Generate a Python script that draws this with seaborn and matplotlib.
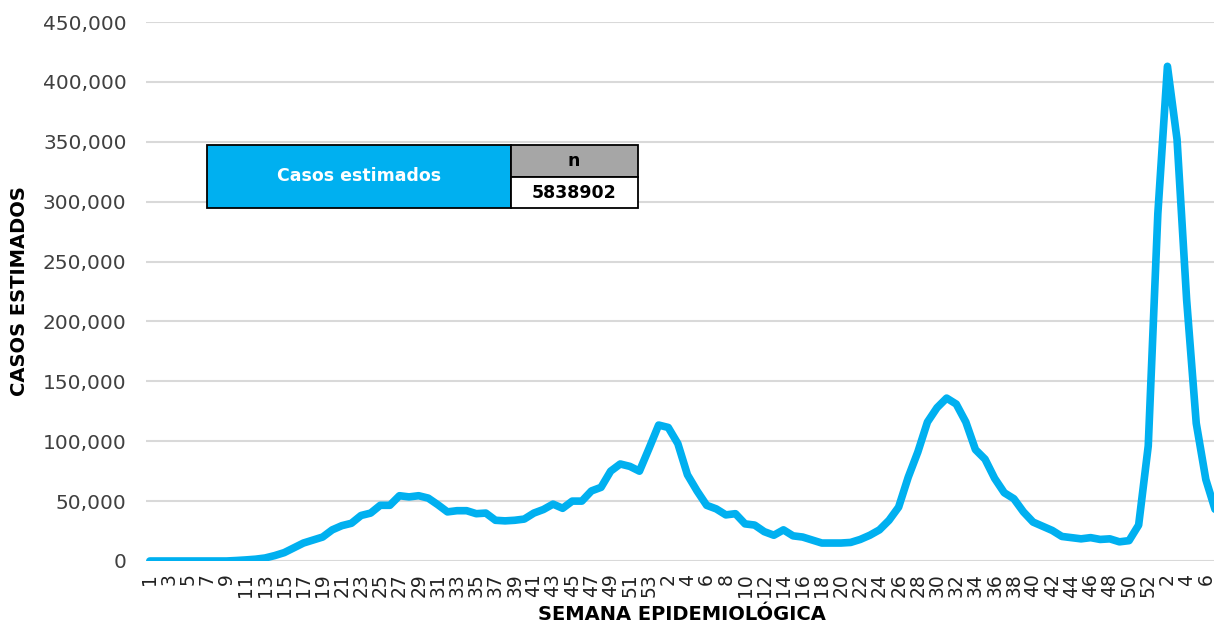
import matplotlib
matplotlib.use("Agg")
import matplotlib.pyplot as plt
import seaborn as sns
import pandas as pd
from matplotlib.patches import Rectangle

# Weekly estimated cases
casos_2020 = [0, 0, 0, 0, 0, 0, 0, 0, 0, 400,
              900, 1500, 2500, 4500, 7000, 11000, 15000, 17500, 20000, 26000,
              29500, 31500, 38000, 40000, 46500, 46500, 54500, 53500, 54500, 52500,
              47000, 41000, 42000, 42000, 39500, 40000, 34000, 33500, 34000, 35000,
              40000, 43000, 47500, 44000, 50000, 50000, 58500, 61500, 75000, 81000,
              79000, 75000, 94000]
casos_2021 = [113500, 111500, 98000, 72000, 58500, 46500, 43500, 38500, 39500, 31000,
              30000, 24500, 21500, 26000, 21000, 20000, 17500, 15000, 15000, 15000,
              15500, 18000, 21500, 26000, 34000, 45000, 70000, 91000, 116000, 128000,
              136000, 131000, 116000, 93000, 85000, 69000, 57000, 52000, 41000, 32500,
              29000, 25500, 20500, 19500, 18500, 19500, 18000, 18500, 16000, 17000,
              30000, 96000]
casos_2022 = [290000, 413000, 352000, 218000, 115000, 68000, 42000]

semanas = (list(range(1, len(casos_2020) + 1))
           + list(range(1, len(casos_2021) + 1))
           + list(range(1, len(casos_2022) + 1)))
casos = casos_2020 + casos_2021 + casos_2022
total_label = "5838902"

df = pd.DataFrame({"pos": range(len(casos)), "semana": semanas, "casos": casos})

sns.set_style("white")
plt.rcParams["font.family"] = ["DejaVu Sans"]

fig = plt.figure(figsize=(12.14, 6.27), dpi=100)
ax = fig.add_axes([146 / 1214, 66 / 627, 1068 / 1214, 539 / 627])

ax.yaxis.grid(True, color="#d9d9d9", linewidth=1.5)
ax.set_axisbelow(True)
sns.lineplot(data=df, x="pos", y="casos", ax=ax, color="#00b0f0", linewidth=5.5,
             solid_capstyle="round", solid_joinstyle="round")

ax.set_ylim(0, 450000)
ax.set_xlim(-0.4, 110.85)
ax.set_yticks(range(0, 450001, 50000))
ax.set_yticklabels([f"{v:,}" for v in range(0, 450001, 50000)], fontsize=14.5, color="#404040")
ax.set_xticks(df["pos"][::2])
ax.set_xticklabels(df["semana"][::2].astype(str), rotation=90, fontsize=13.5, color="#222222")
ax.tick_params(axis="x", length=0, pad=9)
ax.tick_params(axis="y", length=0, pad=14)
for s in ax.spines.values():
    s.set_visible(False)

ax.set_xlabel("SEMANA EPIDEMIOLÓGICA", fontsize=14, fontweight="bold", va="center", color="black")
ax.set_ylabel("CASOS ESTIMADOS", fontsize=14, fontweight="bold", va="center", color="black")
ax.xaxis.set_label_coords((682 - 146) / 1068, -(614 - 561) / 539)
ax.yaxis.set_label_coords(-(146 - 20) / 1068, (561 - 291) / 539)

# Summary box in the upper left
W, H = 1214, 627
def box(x0, y0, x1, y1, color):
    fig.patches.append(Rectangle((x0 / W, 1 - y1 / H), (x1 - x0) / W, (y1 - y0) / H,
                                 transform=fig.transFigure, facecolor=color,
                                 edgecolor="black", linewidth=1.3, zorder=5))

box(207, 145, 511, 208, "#00b0f0")
box(511, 145, 638, 177, "#a6a6a6")
box(511, 177, 638, 208, "white")
fig.text(359 / W, 1 - 176 / H, "Casos estimados", color="white", fontsize=12.5,
         fontweight="bold", ha="center", va="center", zorder=6)
fig.text(574 / W, 1 - 161 / H, "n", fontsize=12.5, fontweight="bold", color="black",
         ha="center", va="center", zorder=6)
fig.text(574 / W, 1 - 193 / H, total_label, fontsize=12.5, fontweight="bold", color="black",
         ha="center", va="center", zorder=6)

fig.savefig("out.png", dpi=100)
